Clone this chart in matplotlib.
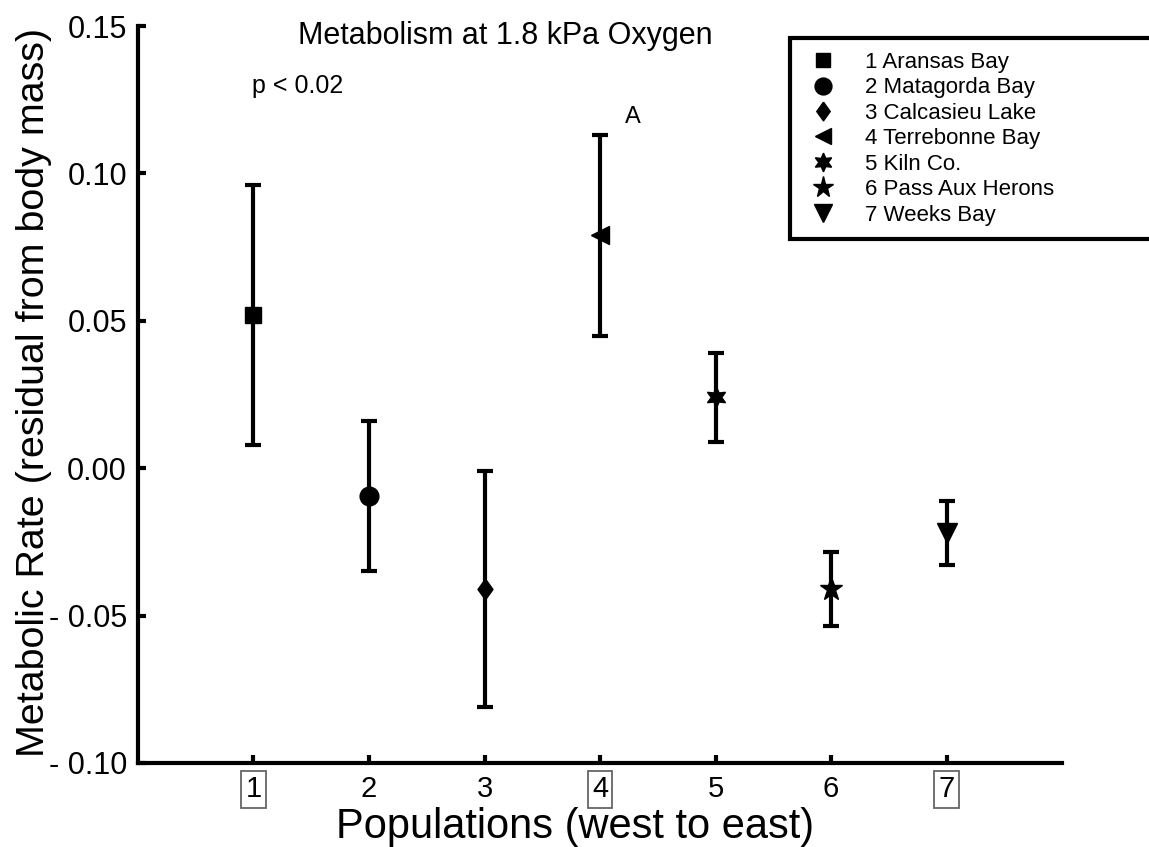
import matplotlib
matplotlib.use("Agg")
import matplotlib.pyplot as plt
from matplotlib.lines import Line2D

plt.rcParams['font.family'] = ['Liberation Sans', 'DejaVu Sans']

# population means and error half-widths (residual metabolic rate)
populations = [1, 2, 3, 4, 5, 6, 7]
names = ["1 Aransas Bay", "2 Matagorda Bay", "3 Calcasieu Lake",
         "4 Terrebonne Bay", "5 Kiln Co.", "6 Pass Aux Herons", "7 Weeks Bay"]
means = [0.052, -0.0095, -0.041, 0.079, 0.024, -0.041, -0.022]
errs = [0.044, 0.0255, 0.040, 0.034, 0.015, 0.0125, 0.011]

diamond = [(0, 1), (0.72, 0), (0, -1), (-0.72, 0), (0, 1)]
markers = ['s', 'o', diamond, '<', (6, 1, 0), '*', 'v']
msizes = [11, 13.5, 15, 13, 15, 17, 14]

yticks = [0.15, 0.10, 0.05, 0.00, -0.05, -0.10]
ytick_labels = ["0.15", "0.10", "0.05", "0.00", "- 0.05", "- 0.10"]
boxed = ["1", "4", "7"]

fig = plt.figure(figsize=(11.49, 8.47), dpi=100)
ax = fig.add_axes([0.1201, 0.0992, 0.8042, 0.8701])

for x, m, e, mk, ms in zip(populations, means, errs, markers, msizes):
    ax.errorbar(x, m, yerr=e, fmt='none', ecolor='k', elinewidth=3,
                capsize=5.5, capthick=3)
    ax.plot(x, m, marker=mk, color='k', ms=ms, linestyle='none')

ax.set_xlim(0, 8)
ax.set_ylim(-0.10, 0.15)
ax.set_xticks(populations)
ax.set_xticklabels([str(p) for p in populations])
ax.set_yticks(yticks)
ax.set_yticklabels(ytick_labels)

for s in ['top', 'right']:
    ax.spines[s].set_visible(False)
for s in ['left', 'bottom']:
    ax.spines[s].set_linewidth(3)

ax.tick_params(axis='both', direction='in', length=6, width=3, labelsize=22)
ax.tick_params(axis='x', pad=9, labelsize=21)
ax.tick_params(axis='y', pad=8)

for lbl in ax.get_xticklabels():
    if lbl.get_text() in boxed:
        lbl.set_bbox(dict(boxstyle='square,pad=0.15', fc='white',
                          ec='0.4', lw=1.3))

ax.set_xlabel("Populations (west to east)", fontsize=30)
ax.xaxis.label.set_verticalalignment('baseline')
ax.xaxis.set_label_coords(0.473, -0.1018)
ax.set_ylabel("Metabolic Rate (residual from body mass)", fontsize=28.4)
ax.yaxis.set_label_coords(-0.093, 0.503)

fig.text(0.44, 0.958, "Metabolism at 1.8 kPa Oxygen", fontsize=22,
         ha='center', va='center')
ax.text(0.99, 0.1295, "p < 0.02", fontsize=18, ha='left', va='center')
ax.text(4.22, 0.119, "A", fontsize=17, ha='left', va='center')

handles = [Line2D([], [], marker=mk, color='k', linestyle='none', ms=ms * 0.9)
           for mk, ms in zip(markers, msizes)]
leg = fig.legend(handles, names, loc='upper left',
                 bbox_to_anchor=(0.6875, 0.5, 0.33, 0.455),
                 bbox_transform=fig.transFigure, mode='expand',
                 borderaxespad=0, fontsize=16, labelspacing=0.2,
                 handlelength=1.7, handletextpad=1.05, borderpad=0.62,
                 fancybox=False, framealpha=1, edgecolor='k')
leg.get_frame().set_linewidth(3)

fig.savefig("out.png", dpi=100)
